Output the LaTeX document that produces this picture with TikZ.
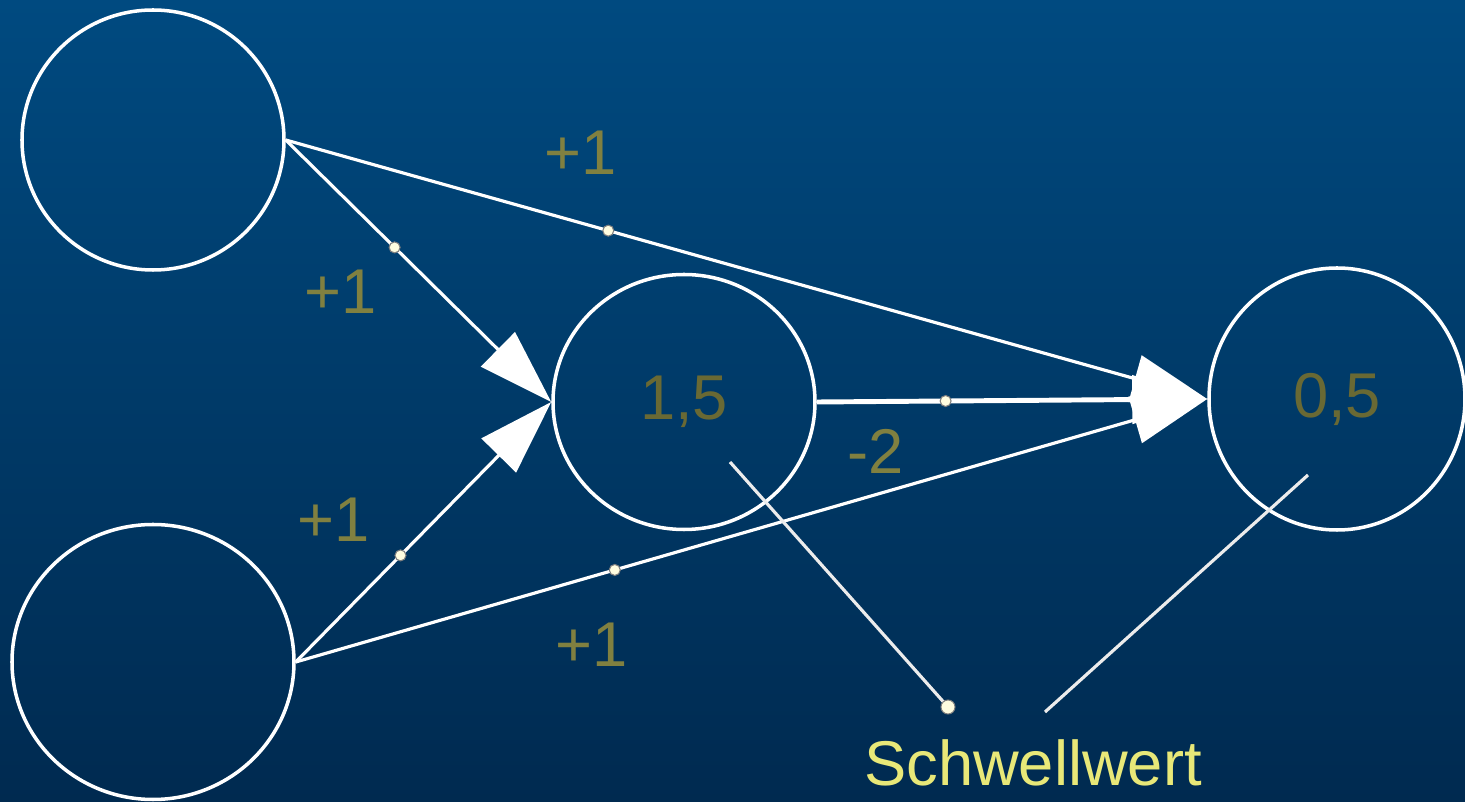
\documentclass[tikz,border=0pt]{standalone}
\usepackage{fontspec}
\setmainfont{Liberation Sans}
\usepackage{tikz}
\usetikzlibrary{arrows.meta,shapes.geometric,positioning}
\definecolor{bgTop}{RGB}{0,74,128}
\definecolor{bgBottom}{RGB}{0,42,80}
\definecolor{weightOlive}{RGB}{128,128,64}
\definecolor{valueOlive}{RGB}{105,105,52}
\definecolor{labelYellow}{RGB}{232,232,120}
\tikzset{
  neuron/.style={
    ellipse, draw=white, line width=1pt, inner sep=0pt,
    font=\fontsize{18}{20}\selectfont, text=valueOlive
  },
  weightArrow/.style={-{Triangle[length=0.75cm,width=0.48cm]}, draw=white, line width=0.9pt},
  pointerLine/.style={draw=white!85!gray, line width=0.9pt},
  midDot/.style={
    circle, fill=white!88!yellow, draw=gray, line width=0.3pt,
    inner sep=0pt, minimum size=0.11cm
  },
  weightLabel/.style={font=\fontsize{18}{20}\selectfont, text=weightOlive}
}
\begin{document}
\begin{tikzpicture}
        \shade[top color=bgTop, bottom color=bgBottom] (0,0) rectangle (14.65,8.02);
        \useasboundingbox (0,0) rectangle (14.65,8.02);
        % neurons
        \node[neuron, minimum width=2.62cm, minimum height=2.6cm] (in1) at (1.53,6.62) {};
        \node[neuron, minimum width=2.82cm, minimum height=2.75cm] (in2) at (1.53,1.40) {};
        \node[neuron, minimum width=2.62cm, minimum height=2.55cm] (hid) at (6.84,4.00) {1,5};
        \node[neuron, minimum width=2.56cm, minimum height=2.62cm] (out) at (13.37,4.03) {0,5};
        % weighted connections
        \draw[weightArrow] (in1.east) -- node[midDot, pos=0.41] (d1) {} (hid.west);
        \draw[weightArrow] (in2.east) -- node[midDot, pos=0.41] (d2) {} (hid.west);
        \draw[weightArrow] (in1.east) -- node[midDot, pos=0.35] (d3) {} (out.west);
        \draw[weightArrow] (in2.east) -- node[midDot, pos=0.35] (d4) {} (out.west);
        \draw[weightArrow, line width=1.4pt] (hid.east) -- node[midDot, pos=0.33] (d5) {} (out.west);
        \node[weightLabel] (w1) at (5.81,6.49) {+1};
        \node[weightLabel] (w2) at (3.41,5.10) {+1};
        \node[weightLabel] (w3) at (3.34,2.82) {+1};
        \node[weightLabel] (w4) at (5.92,1.57) {+1};
        \node[weightLabel] (w5) at (8.76,3.51) {-2};
        % threshold pointers
        \node[font=\fontsize{18}{20}\selectfont, text=labelYellow] (thresh) at (10.33,0.39) {Schwellwert};
        \coordinate (hidMark) at (7.30,3.40);
        \coordinate (hidEnd) at (9.48,0.95);
        \coordinate (outMark) at (13.08,3.27);
        \coordinate (outEnd) at (10.45,0.90);
        \draw[pointerLine] (hidMark) -- (hidEnd) node[midDot, minimum size=0.14cm] (hidDot) {};
        \draw[pointerLine] (outMark) -- (outEnd);
      \end{tikzpicture}
\end{document}
